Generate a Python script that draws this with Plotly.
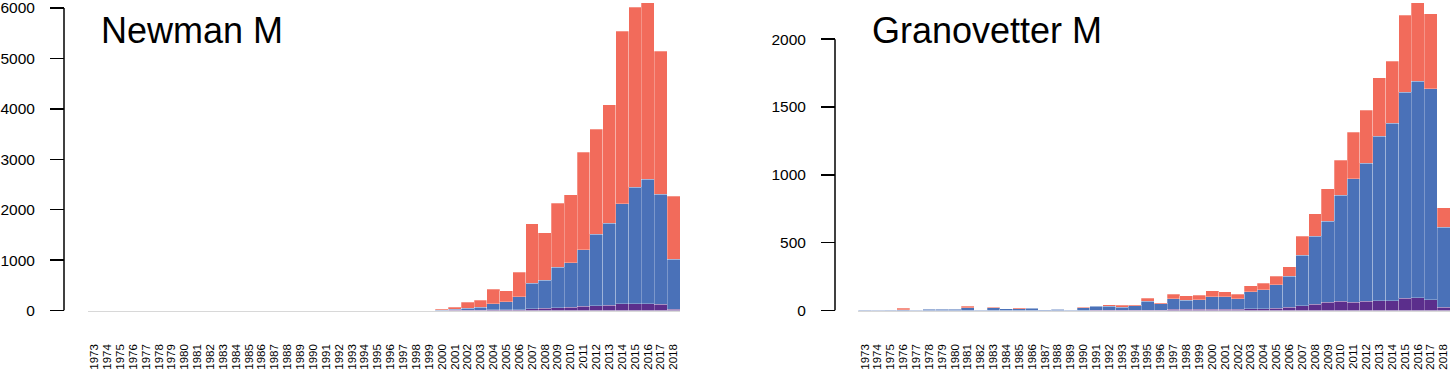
import plotly.graph_objects as go

years = list(range(1973, 2019))

# Newman M: totals, blue-top (purple+blue), purple
newman_total = [0]*27 + [25, 70, 167, 203, 425, 395, 759, 1720, 1545, 2129, 2296,
                         3138, 3601, 4084, 5543, 6013, 6103, 5145, 2270]
newman_blue_top = [0]*27 + [8, 25, 45, 65, 135, 174, 277, 545, 605, 855, 952,
                            1209, 1511, 1736, 2122, 2444, 2604, 2309, 1022]
newman_purple = [0]*27 + [0, 3, 5, 8, 13, 15, 20, 40, 42, 55, 70,
                          90, 92, 110, 135, 135, 140, 122, 30]

# Granovetter M
gran_total = [5, 1, 5, 17, 2, 14, 12, 12, 33, 5, 26, 14, 19, 19, 7, 10, 5, 24,
              36, 43, 38, 43, 90, 57, 121, 109, 114, 146, 140, 121, 184, 200,
              252, 324, 547, 714, 898, 1109, 1315, 1478, 1717, 1837, 2175,
              2270, 2189, 759]
gran_blue_top = [3, 1, 4, 5, 2, 10, 8, 9, 21, 4, 21, 12, 15, 16, 6, 8, 4, 21,
                 31, 31, 26, 36, 67, 49, 86, 75, 81, 102, 102, 86, 138, 152,
                 190, 252, 408, 546, 659, 850, 970, 1087, 1286, 1382, 1610,
                 1691, 1633, 613]
gran_purple = [0]*18 + [2, 2, 2, 3, 3, 3, 8, 8, 8, 10, 8, 8, 12, 12, 17, 24,
                        36, 48, 60, 67, 60, 67, 72, 72, 91, 96, 81, 24]

RED = "#F26B5B"
BLUE = "#4A71B8"
PURPLE = "#5B2E8C"
FONT = "Liberation Sans, Arial, Helvetica, sans-serif"

W, H = 1450, 376
BASE_PX = 317


def segs(total, blue_top, purple):
    p = purple
    b = [bt - pp for bt, pp in zip(blue_top, purple)]
    r = [t - bt for t, bt in zip(total, blue_top)]
    return p, b, r


fig = go.Figure()
line = dict(color="rgba(255,255,255,0.45)", width=0.6)
for (total, bt, pu), xa, ya in [((newman_total, newman_blue_top, newman_purple), "x", "y"),
                                ((gran_total, gran_blue_top, gran_purple), "x2", "y2")]:
    p, b, r = segs(total, bt, pu)
    for vals, col in [(p, PURPLE), (b, BLUE), (r, RED)]:
        fig.add_trace(go.Bar(x=years, y=vals, marker=dict(color=col, line=line),
                             xaxis=xa, yaxis=ya, showlegend=False, hoverinfo="skip"))

ydom = [(H - BASE_PX) / H, 1]

xcommon = dict(range=[1972.5, 2018.5], tickmode="array", tickvals=years,
               ticktext=[str(y) for y in years], tickangle=-90,
               tickfont=dict(size=11.5, family=FONT, color="#000"),
               showline=True, linecolor="#d8d8d8", linewidth=1, ticks="",
               showgrid=False, zeroline=False, ticklabelstandoff=28,
               ticklabeloverflow="allow",
               layer="below traces", fixedrange=True)

ycommon = dict(showline=False, ticks="outside", ticklen=14, tickwidth=1.5,
               tickcolor="#000", tickfont=dict(size=15.5, family=FONT, color="#000"),
               showgrid=False, zeroline=False, ticklabelstandoff=12,
               ticklabeloverflow="allow", fixedrange=True,
               anchor="free", domain=ydom)

left_ax = 64 / W
right_ax = 835 / W

fig.update_layout(
    width=W, height=H, margin=dict(l=0, r=0, t=0, b=0),
    paper_bgcolor="white", plot_bgcolor="white",
    barmode="stack", bargap=0, hovermode=False,
    xaxis=dict(domain=[88 / W, 680 / W], anchor="y", **xcommon),
    xaxis2=dict(domain=[858.4 / W, 1], anchor="y2", **xcommon),
    yaxis=dict(range=[0, 6120], tickvals=[0, 1000, 2000, 3000, 4000, 5000, 6000],
               position=left_ax, **ycommon),
    yaxis2=dict(range=[0, 2274], tickvals=[0, 500, 1000, 1500, 2000],
                position=right_ax, **ycommon),
    font=dict(family=FONT),
    shapes=[
        dict(type="line", xref="paper", yref="y", x0=left_ax, x1=left_ax, y0=0, y1=6000,
             line=dict(color="#000", width=1.5)),
        dict(type="line", xref="paper", yref="y2", x0=right_ax, x1=right_ax, y0=0, y1=2000,
             line=dict(color="#000", width=1.5)),
    ],
    annotations=[
        dict(text="Newman M", xref="paper", yref="paper", x=99 / W, y=1 - 29 / H,
             xanchor="left", yanchor="middle", showarrow=False,
             font=dict(size=36, family=FONT, color="#000")),
        dict(text="Granovetter M", xref="paper", yref="paper", x=870 / W, y=1 - 29 / H,
             xanchor="left", yanchor="middle", showarrow=False,
             font=dict(size=36, family=FONT, color="#000")),
    ],
)

fig.write_html("out.html",
               config={"displayModeBar": False, "staticPlot": True},
               post_script="document.body.style.margin='0';"
                           "document.body.style.overflow='hidden';"
                           "document.documentElement.style.overflow='hidden';")
